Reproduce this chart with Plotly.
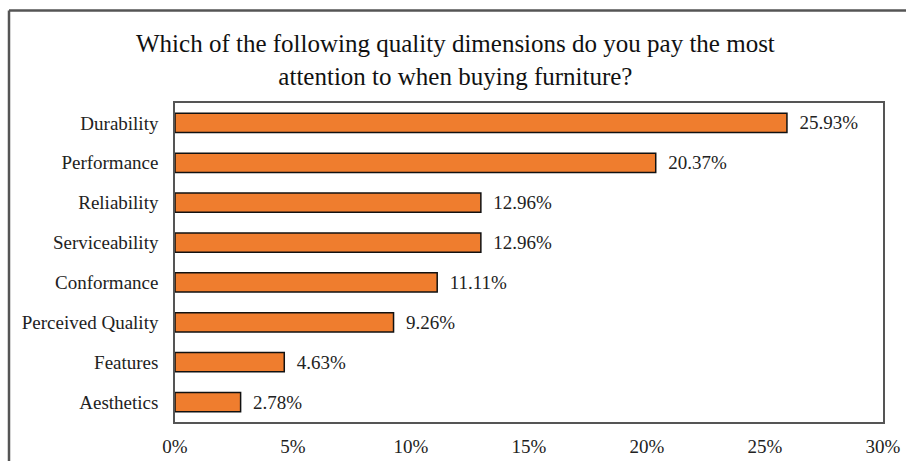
import plotly.graph_objects as go

categories = ["Durability", "Performance", "Reliability", "Serviceability",
              "Conformance", "Perceived Quality", "Features", "Aesthetics"]
shares = [25.93, 20.37, 12.96, 12.96, 11.11, 9.26, 4.63, 2.78]
tick_values = [0, 5, 10, 15, 20, 25, 30]
tick_labels = ["0%", "5%", "10%", "15%", "20%", "25%", "30%"]
title_text = ("Which of the following quality dimensions do you pay the most<br>"
              "attention to when buying furniture?")

SERIF = "Liberation Serif"
W, H = 906, 461
ML, MR, MT, MB = 175, 23, 103, 39
PW, PH = W - ML - MR, H - MT - MB


def px_to_paper_x(px):
    return (px - ML) / PW


def px_to_paper_y(py):
    return 1 - (py - MT) / PH


fig = go.Figure()
fig.add_trace(go.Bar(
    x=shares,
    y=categories,
    orientation="h",
    marker=dict(color="#EF7D2E", line=dict(color="#111111", width=1.5)),
    text=[f"\u00a0\u00a0{v:.2f}%" for v in shares],
    textposition="outside",
    constraintext="none",
    textfont=dict(family=SERIF, size=19, color="#222222"),
    cliponaxis=False,
    hoverinfo="skip",
))

# outer frame: left and top edges
fx = px_to_paper_x(9)
fy = px_to_paper_y(10.5)
fig.add_shape(type="line", xref="paper", yref="paper",
              x0=fx, x1=fx, y0=px_to_paper_y(470), y1=fy,
              line=dict(color="#555555", width=2.5))
fig.add_shape(type="line", xref="paper", yref="paper",
              x0=fx, x1=px_to_paper_x(915), y0=fy, y1=fy,
              line=dict(color="#555555", width=2.5))

fig.add_annotation(
    text=title_text, xref="paper", yref="paper",
    x=px_to_paper_x(455), y=px_to_paper_y(60),
    xanchor="center", yanchor="middle", showarrow=False,
    font=dict(family=SERIF, size=25, color="#111111"),
    align="center",
)

fig.update_layout(
    width=W, height=H,
    margin=dict(l=ML, r=MR, t=MT, b=MB, pad=0, autoexpand=False),
    paper_bgcolor="white", plot_bgcolor="white",
    showlegend=False,
    bargap=0.52,
    font=dict(family=SERIF),
    xaxis=dict(
        range=[0, 30], tickvals=tick_values, ticktext=tick_labels,
        showgrid=False, zeroline=False, automargin=False,
        showline=True, mirror=True, linecolor="#555555", linewidth=1.5,
        ticks="outside", ticklen=6, tickcolor="rgba(0,0,0,0)",
        tickfont=dict(family=SERIF, size=19, color="#222222"),
        fixedrange=True,
    ),
    yaxis=dict(
        autorange="reversed", automargin=False,
        showgrid=False, zeroline=False,
        showline=True, mirror=True, linecolor="#555555", linewidth=1.5,
        ticks="outside", ticklen=11, tickcolor="rgba(0,0,0,0)",
        tickfont=dict(family=SERIF, size=19, color="#222222"),
        fixedrange=True,
    ),
)

fig.write_html("out.html")
